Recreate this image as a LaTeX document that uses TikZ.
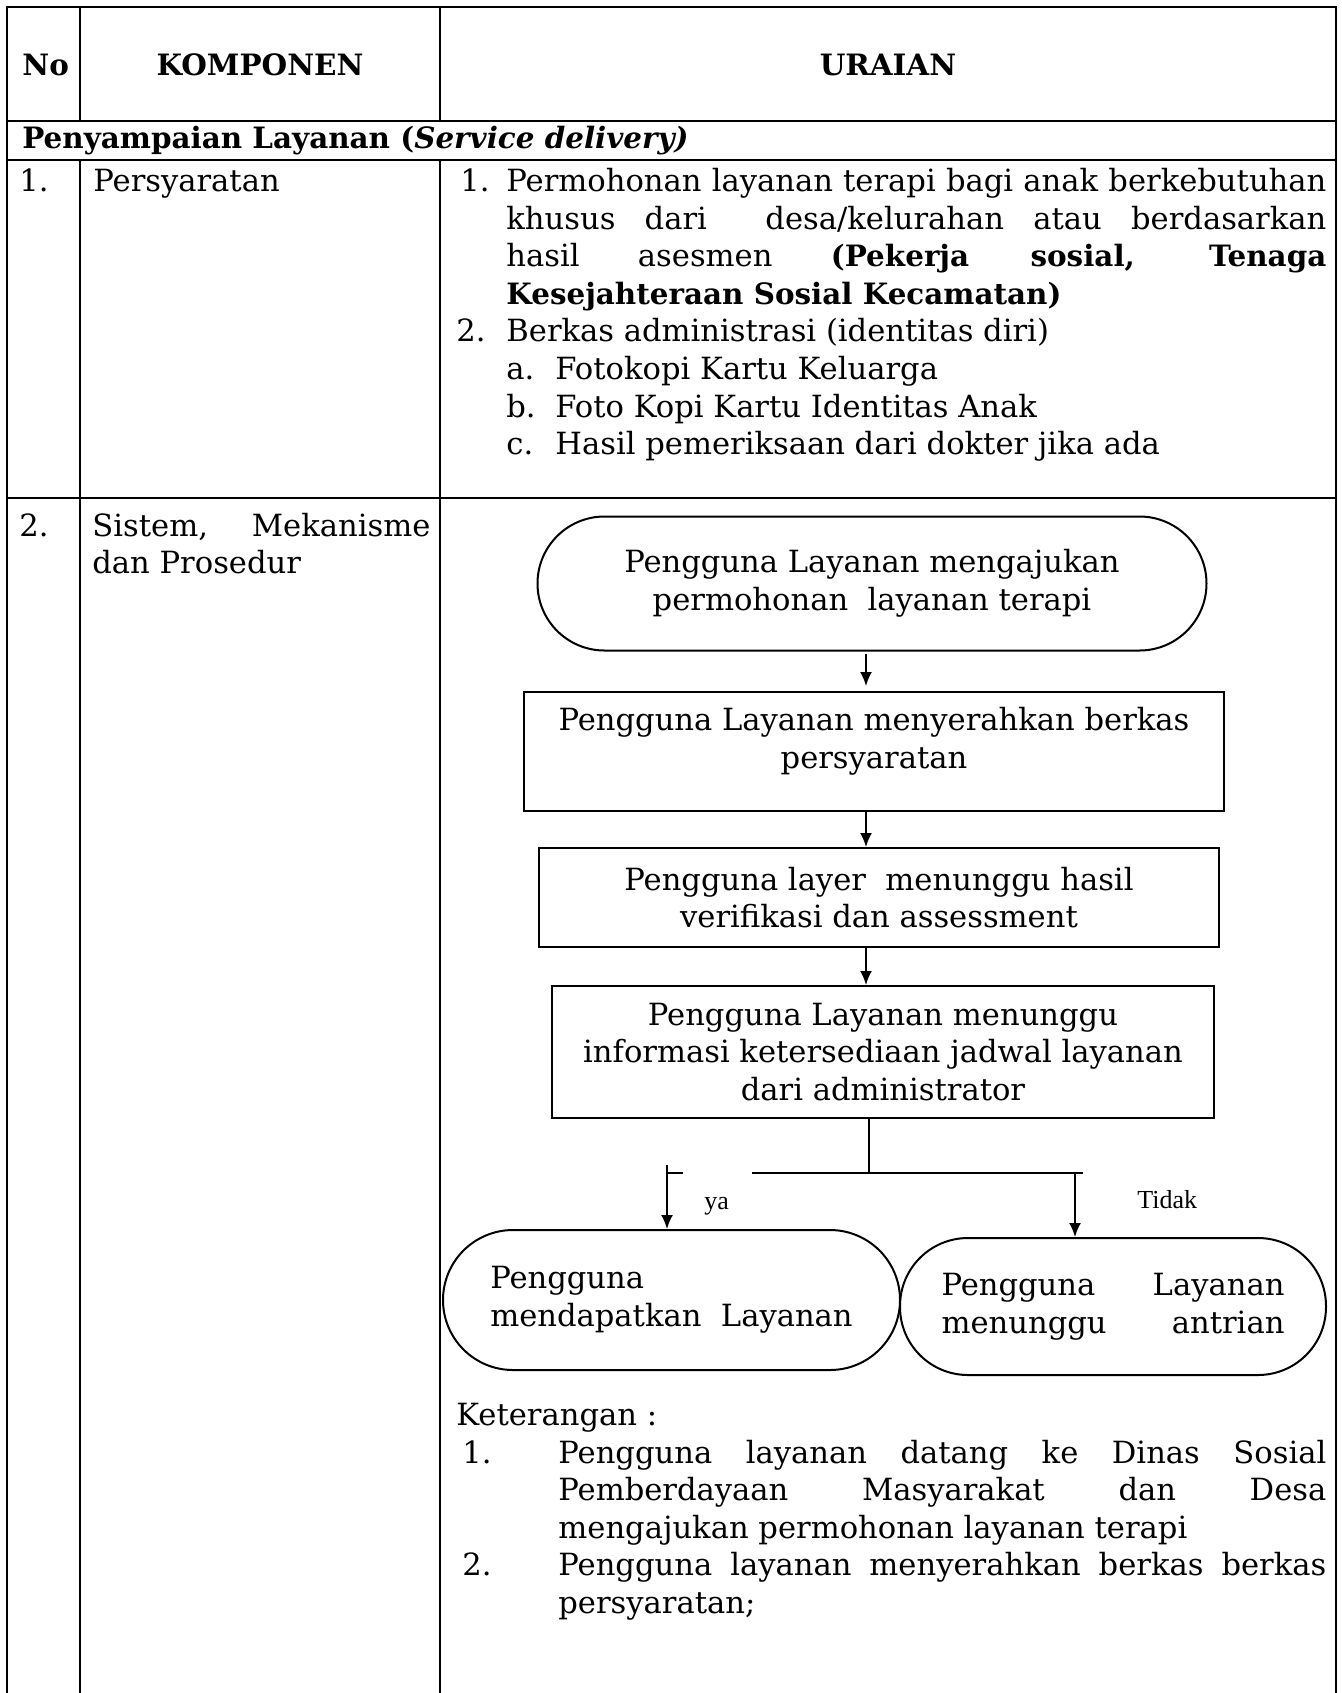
\documentclass[tikz,border=0pt]{standalone}
\usepackage{fontspec}
\setmainfont{DejaVu Serif}
\newfontfamily\timesf{Liberation Serif}
\usetikzlibrary{arrows.meta}
\newcommand\bodyf{\fontsize{15.3pt}{18.8pt}\selectfont}
\newcommand\boldf{\fontsize{14.7pt}{18.8pt}\selectfont\bfseries}
\newcommand\smallf{\timesf\fontsize{13pt}{15pt}\selectfont}
\newcommand\jl[2]{\makebox[#1][s]{#2}}
\newcommand\pb[2]{\parbox[t]{#1}{\raggedright #2}}
\tikzset{
  grid/.style={line width=1.2pt, line join=miter},
  txt/.style={anchor=base west, inner sep=0pt, font=\bodyf},
  flow/.style={draw, line width=1pt, inner sep=0pt, align=center, font=\bodyf},
  arr/.style={line width=1pt, -{Latex[length=7pt,width=6pt]}},
  plain/.style={line width=1pt},
  lab/.style={anchor=base west, inner sep=0pt, font=\smallf}
}
\begin{document}
\begin{tikzpicture}[x=0.5pt,y=-0.5pt]
\useasboundingbox (0,0) rectangle (1341,1693);
% table grid
\draw[grid] (7,1693) -- (7,7) -- (1336,7) -- (1336,1693);
\draw[grid] (7,121) -- (1336,121);
\draw[grid] (7,160) -- (1336,160);
\draw[grid] (7,498) -- (1336,498);
\draw[grid] (80,7) -- (80,121);
\draw[grid] (80,160) -- (80,1693);
\draw[grid] (440,7) -- (440,121);
\draw[grid] (440,160) -- (440,1693);
% header
\node[txt, font=\boldf] (hno) at (22,75) {No};
\node[txt, font=\boldf, anchor=base] (hkomp) at (260,75) {KOMPONEN};
\node[txt, font=\boldf, anchor=base] (hur) at (888,75) {URAIAN};
\node[txt, font=\boldf] (sect) at (22,148) {Penyampaian Layanan (\textit{Service delivery)}};
% row 1
\node[txt] (n1) at (19,191.5) {1.};
\node[txt] (k1) at (93,191.5) {Persyaratan};
\node[txt] (u1n) at (460,191.5) {1.};
\node[txt] (u1t) at (506,191.5) {\pb{410pt}{\jl{410pt}{Permohonan layanan terapi bagi anak berkebutuhan}\\
\jl{410pt}{khusus dari\ \ desa/kelurahan atau berdasarkan}\\
\jl{410pt}{hasil asesmen {\boldf(Pekerja sosial, Tenaga}}\\
{\boldf Kesejahteraan Sosial Kecamatan)}}};
\node[txt] (u2n) at (456,341.9) {2.};
\node[txt] (u2t) at (506,341.9) {Berkas administrasi (identitas diri)};
\node[txt] (uabc) at (506,379.5) {\pb{40pt}{a.\\b.\\c.}};
\node[txt] (uabct) at (555,379.5) {\pb{350pt}{Fotokopi Kartu Keluarga\\Foto Kopi Kartu Identitas Anak\\Hasil pemeriksaan dari dokter jika ada}};
% row 2
\node[txt] (n2) at (19,536) {2.};
\node[txt] (k2) at (92,536) {\pb{169pt}{\jl{169pt}{Sistem, Mekanisme}\\dan Prosedur}};
% flowchart
\node[flow, minimum width=334.5pt, minimum height=67pt, rounded corners=33.5pt] (s1) at (872,583.5)
  {Pengguna Layanan mengajukan\\permohonan\ \ layanan terapi};
\node[flow, minimum width=350pt, minimum height=59.5pt] (b2) at (874,751.5) {};
\node[flow, draw=none] (b2t) at (874,741.5) {Pengguna Layanan menyerahkan berkas\\persyaratan};
\node[flow, minimum width=340pt, minimum height=49.5pt] (b3) at (879,897.5)
  {Pengguna layer\ \ menunggu hasil\\verifikasi dan assessment};
\node[flow, minimum width=331pt, minimum height=66pt] (b4) at (883,1052)
  {Pengguna Layanan menunggu\\informasi ketersediaan jadwal layanan\\dari administrator};
\node[flow, align=left, minimum width=228.5pt, minimum height=70pt, rounded corners=35pt] (sL) at (671.5,1300)
  {Pengguna\\mendapatkan\ \ Layanan};
\node[flow, align=left, minimum width=213pt, minimum height=68.5pt, rounded corners=34pt] (sR) at (1113,1306.5)
  {\jl{171.5pt}{Pengguna Layanan}\\\jl{171.5pt}{menunggu antrian}};
\coordinate (ax) at (866,0);
\draw[arr, shorten <=1pt, shorten >=2.5pt] (s1.south -| ax) -- (b2.north -| ax);
\draw[arr] (b2.south -| ax) -- (b3.north -| ax);
\draw[arr] (b3.south -| ax) -- (b4.north -| ax);
\coordinate (j) at (869,1173);
\coordinate (hl) at (752,1173);
\coordinate (hr) at (1083,1173);
\coordinate (rx) at (1075,1173);
\coordinate (ly) at (667,1165);
\coordinate (lt) at (683,1173);
\draw[plain] (b4.south -| j) -- (j);
\draw[plain] (hl) -- (hr);
\draw[arr] (rx) -- (sR.north -| rx);
\draw[arr] (ly) -- (sL.north -| ly);
\draw[plain] (ly |- lt) -- (lt);
\node[lab] (ya) at (704,1209) {ya};
\node[lab] (tidak) at (1137,1208) {Tidak};
% keterangan
\node[txt] (ket) at (456,1425) {Keterangan :};
\node[txt] (k1n) at (462,1463) {1.};
\node[txt] (k1t) at (558,1463) {\pb{384pt}{\jl{384pt}{Pengguna layanan datang ke Dinas Sosial}\\
\jl{384pt}{Pemberdayaan Masyarakat dan Desa}\\
mengajukan permohonan layanan terapi}};
\node[txt] (k2n) at (462,1575.8) {2.};
\node[txt] (k2t) at (558,1575.8) {\pb{384pt}{\jl{384pt}{Pengguna layanan menyerahkan berkas berkas}\\
persyaratan;}};
\end{tikzpicture}
\end{document}
